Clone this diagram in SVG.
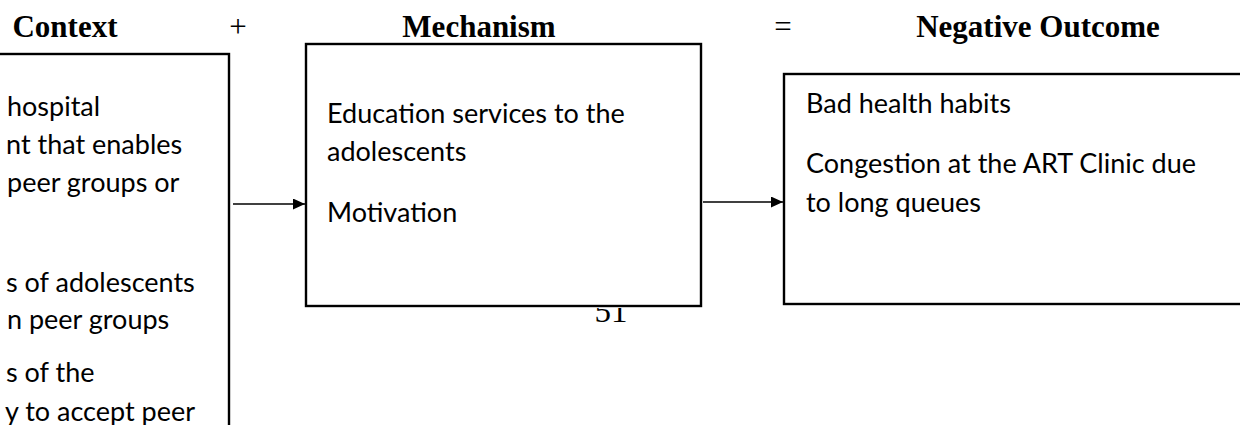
<svg xmlns="http://www.w3.org/2000/svg" width="1240" height="425" viewBox="0 0 1240 425">
  <style>
    .head { font-family: "Liberation Serif", "Times New Roman", serif; font-weight: bold; font-size: 31px; fill: #000; }
    .op { font-family: "Liberation Serif", "Times New Roman", serif; font-size: 31px; fill: #000; }
    .pageno { font-family: "Liberation Serif", "Times New Roman", serif; font-size: 33px; fill: #000; }
    .box { fill: #fff; stroke: #000; stroke-width: 2.4; }
    .body { font-family: Lato, "Open Sans", sans-serif; font-size: 27px; fill: #000; }
    .link { stroke: #000; stroke-width: 1.3; fill: none; marker-end: url(#arrow); }
  </style>
  <defs>
    <marker id="arrow" viewBox="0 0 12 11" refX="12" refY="5.5" markerWidth="12" markerHeight="11" markerUnits="userSpaceOnUse" orient="auto">
      <path d="M0,0 L12,5.5 L0,11 Z" fill="#000"/>
    </marker>
    <clipPath id="below-box">
      <rect x="560" y="308" width="120" height="40"/>
    </clipPath>
  </defs>
  <rect width="1240" height="425" fill="#fff"/>

  <!-- column headings -->
  <g id="headings">
    <text class="head" x="65" y="37" text-anchor="middle">Context</text>
    <text class="op" x="238" y="37" text-anchor="middle">+</text>
    <text class="head" x="479" y="37" text-anchor="middle">Mechanism</text>
    <text class="op" x="783" y="37" text-anchor="middle">=</text>
    <text class="head" x="1038" y="37" text-anchor="middle">Negative Outcome</text>
  </g>

  <!-- page number, its upper part hidden under the mechanism box -->
  <text class="pageno" x="611" y="322" text-anchor="middle" clip-path="url(#below-box)">51</text>

  <g id="context">
    <rect class="box" x="-10" y="54" width="239" height="400"/>
    <text class="body" x="7" y="116">hospital</text>
    <text class="body" x="6" y="154">nt that enables</text>
    <text class="body" x="7" y="192">peer groups or</text>
    <text class="body" x="6" y="292">s of adolescents</text>
    <text class="body" x="7" y="329">n peer groups</text>
    <text class="body" x="6" y="382">s of the</text>
    <text class="body" x="5" y="421">y to accept peer</text>
  </g>

  <g id="mechanism">
    <rect class="box" x="306" y="44" width="395" height="262"/>
    <text class="body" x="327" y="123">Education services to the</text>
    <text class="body" x="327" y="161">adolescents</text>
    <text class="body" x="327" y="222">Motivation</text>
  </g>

  <g id="outcome">
    <rect class="box" x="784" y="74" width="480" height="230"/>
    <text class="body" x="806" y="113">Bad health habits</text>
    <text class="body" x="806" y="173">Congestion at the ART Clinic due</text>
    <text class="body" x="806" y="212">to long queues</text>
  </g>

  <g id="connectors">
    <line class="link" x1="233" y1="204" x2="305" y2="204"/>
    <line class="link" x1="703" y1="202" x2="783" y2="202"/>
  </g>
</svg>
